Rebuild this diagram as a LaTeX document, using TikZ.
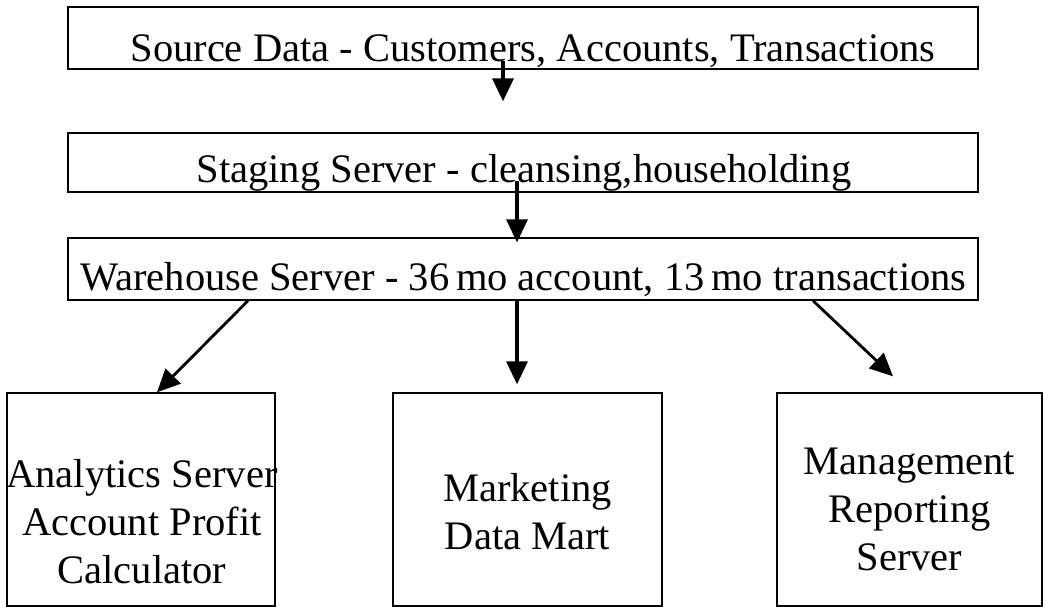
\documentclass[tikz,border=0pt]{standalone}
\usepackage{fontspec}
\setmainfont{Liberation Serif}
\usetikzlibrary{arrows.meta}

\begin{document}
\begin{tikzpicture}[x=1pt, y=-1pt,
    box/.style={draw, line width=1.4pt, inner sep=0pt},
    lbl/.style={inner sep=0pt, align=center, font=\fontsize{40.5}{48}\selectfont},
    flow/.style={line width=3.6pt, -{Triangle[length=23pt, width=21pt]}},
    slant/.style={line width=2.8pt, -{Triangle[length=23pt, width=21pt]}}]
  \useasboundingbox (0,0) rectangle (1045,607);
  % ---- upper layers ----
  \node[box, minimum width=910, minimum height=62] (src) at (523,38) {};
  \node[lbl, anchor=base] (srctxt) at (533,62) {Source Data - Customers, Accounts, Transactions};
  \node[box, minimum width=910, minimum height=59] (stg) at (523,162.5) {};
  \node[lbl, anchor=base] (stgtxt) at (524,183) {Staging Server - cleansing,householding};
  \node[box, minimum width=910, minimum height=62] (wh) at (523,269) {};
  \node[lbl, anchor=base] (whtxt) at (523.5,290) {Warehouse Server - 36\,mo account, 13\,mo transactions};
  % ---- bottom servers ----
  \node[box, minimum width=268, minimum height=213] (anl) at (141,499.5) {};
  \node[lbl] (anltxt) at (142,522) {Analytics Server\\Account Profit\\Calculator};
  \node[box, minimum width=269, minimum height=213] (mkt) at (527.5,499.5) {};
  \node[lbl] (mkttxt) at (527.5,512) {Marketing\\Data Mart};
  \node[box, minimum width=265, minimum height=213] (mgt) at (909.5,499.5) {};
  \node[lbl] (mgttxt) at (909.5,509) {Management\\Reporting\\Server};
  % ---- arrows ----
  \draw[flow] ([xshift=-20pt, yshift=9pt]src.south) -- ([xshift=-20pt, yshift=31pt]stg.north);
  \draw[flow] ([xshift=-6pt, yshift=12pt]stg.south) -- ([xshift=-6pt, yshift=-5pt]wh.north);
  \draw[flow] ([xshift=-6pt]wh.south) -- ([xshift=-10.5pt, yshift=8pt]mkt.north);
  \draw[slant] ([xshift=-275pt]wh.south) -- ([xshift=16pt]anl.north);
  \draw[slant] ([xshift=290pt]wh.south) -- ([xshift=-16.5pt, yshift=16pt]mgt.north);
\end{tikzpicture}
\end{document}
